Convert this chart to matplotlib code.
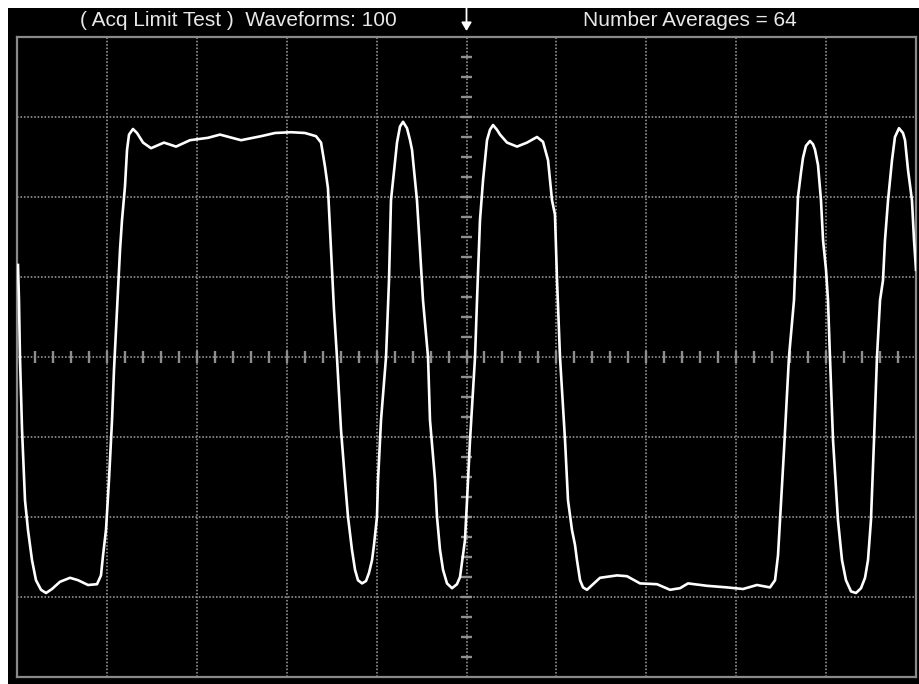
import matplotlib
matplotlib.use("Agg")
import matplotlib.pyplot as plt
from matplotlib.patches import Rectangle

# Screen annotations
left_label = "( Acq Limit Test )  Waveforms: 100"
right_label = "Number Averages = 64"

# Graticule: 10 horizontal x 8 vertical divisions
n_xdiv = 10
n_ydiv = 8
x_minor_per_div = 5
y_minor_per_div = 4
trigger_pos = 5.0

# Averaged acquisition trace (time in divisions, amplitude in divisions)
time_div = [
    0.011, 0.022, 0.033, 0.056, 0.089, 0.122, 0.167, 0.211, 0.267, 0.323,
    0.389, 0.478, 0.590, 0.679, 0.790, 0.890, 0.934, 0.957, 0.990, 1.023,
    1.057, 1.079, 1.101, 1.123, 1.146, 1.168, 1.201, 1.224, 1.246, 1.290,
    1.335, 1.402, 1.491, 1.635, 1.769, 1.924, 2.125, 2.258, 2.492, 2.714,
    2.870, 3.048, 3.204, 3.326, 3.382, 3.426, 3.459, 3.493, 3.526, 3.559,
    3.604, 3.648, 3.682, 3.726, 3.760, 3.793, 3.838, 3.882, 3.915, 3.949,
    3.971, 4.004, 4.016, 4.049, 4.105, 4.138, 4.160, 4.183, 4.227, 4.260,
    4.294, 4.338, 4.372, 4.394, 4.427, 4.449, 4.483, 4.516, 4.572, 4.594,
    4.650, 4.672, 4.705, 4.739, 4.783, 4.839, 4.894, 4.928, 4.961, 4.983,
    5.006, 5.039, 5.095, 5.117, 5.150, 5.184, 5.228, 5.261, 5.295, 5.339,
    5.373, 5.451, 5.562, 5.673, 5.784, 5.851, 5.907, 5.951, 5.984, 6.007,
    6.040, 6.096, 6.129, 6.173, 6.207, 6.229, 6.263, 6.296, 6.340, 6.407,
    6.485, 6.674, 6.785, 6.930, 7.119, 7.264, 7.375, 7.464, 7.675, 7.898,
    8.076, 8.231, 8.376, 8.432, 8.465, 8.487, 8.532, 8.587, 8.643, 8.665,
    8.687, 8.721, 8.743, 8.776, 8.821, 8.854, 8.877, 8.910, 8.943, 8.966,
    8.999, 9.021, 9.043, 9.077, 9.132, 9.177, 9.221, 9.277, 9.333, 9.388,
    9.433, 9.466, 9.499, 9.533, 9.566, 9.600, 9.633, 9.655, 9.689, 9.733,
    9.766, 9.811, 9.855, 9.878, 9.911, 9.955, 9.978, 10.000,
]
volts_div = [
    1.15, 0.71, 0.00, -0.91, -1.79, -2.16, -2.54, -2.79, -2.91, -2.95,
    -2.90, -2.81, -2.76, -2.79, -2.85, -2.84, -2.73, -2.48, -2.16, -1.54,
    -0.79, -0.16, 0.34, 0.84, 1.34, 1.71, 2.13, 2.59, 2.78, 2.85,
    2.80, 2.68, 2.61, 2.68, 2.63, 2.71, 2.74, 2.78, 2.71, 2.76,
    2.80, 2.81, 2.80, 2.76, 2.68, 2.38, 2.11, 1.34, 0.59, 0.00,
    -0.91, -1.54, -2.00, -2.41, -2.66, -2.79, -2.83, -2.80, -2.70, -2.54,
    -2.35, -2.00, -1.54, -0.79, 0.00, 0.96, 1.96, 2.21, 2.68, 2.88,
    2.94, 2.86, 2.71, 2.59, 2.21, 1.96, 1.34, 0.71, 0.00, -0.79,
    -1.54, -2.00, -2.41, -2.66, -2.83, -2.89, -2.84, -2.75, -2.48, -2.29,
    -1.79, -1.04, 0.00, 0.71, 1.71, 2.21, 2.71, 2.84, 2.90, 2.84,
    2.78, 2.68, 2.63, 2.68, 2.75, 2.69, 2.46, 1.96, 1.78, 0.96,
    0.00, -1.04, -1.79, -2.16, -2.35, -2.54, -2.79, -2.88, -2.91, -2.84,
    -2.76, -2.73, -2.74, -2.83, -2.84, -2.91, -2.89, -2.83, -2.86, -2.88,
    -2.90, -2.85, -2.88, -2.79, -2.48, -2.04, -1.16, 0.00, 0.71, 1.34,
    2.00, 2.31, 2.49, 2.64, 2.70, 2.66, 2.59, 2.40, 1.96, 1.46,
    1.09, 0.71, 0.00, -1.04, -2.04, -2.54, -2.79, -2.93, -2.95, -2.89,
    -2.76, -2.54, -2.04, -1.04, 0.00, 0.71, 0.96, 1.46, 1.96, 2.46,
    2.75, 2.86, 2.80, 2.71, 2.34, 1.96, 1.46, 1.09,
]

W, H = 919, 684
fig = plt.figure(figsize=(W / 100, H / 100), dpi=100, facecolor="white")

# Black instrument screen behind everything
fig.patches.append(Rectangle((8 / W, 0), 1 - 8 / W, (H - 8) / H,
                             transform=fig.transFigure, facecolor="black",
                             edgecolor="none", zorder=-10))

ax = fig.add_axes([17 / W, 7 / H, 899 / W, 640 / H])
ax.set_zorder(5)
ax.set_facecolor("black")
ax.set_xlim(0, n_xdiv)
ax.set_ylim(-n_ydiv / 2, n_ydiv / 2)
ax.set_xticks([])
ax.set_yticks([])
for sp in ax.spines.values():
    sp.set_color("#8a8a8a")
    sp.set_linewidth(1.6)

grid_color = "#888888"
dots = (0, (0.9, 1.0))
for k in range(1, n_xdiv):
    ax.axvline(k, color=grid_color, lw=1.3, linestyle=dots, zorder=1)
for k in range(1, n_ydiv):
    ax.axhline(k - n_ydiv / 2, color=grid_color, lw=1.3, linestyle=dots, zorder=1)

# Minor ticks along the centre axes
xc, yc = n_xdiv / 2, 0.0
xt = [i / x_minor_per_div for i in range(1, n_xdiv * x_minor_per_div)]
ax.vlines(xt, yc - 0.07, yc + 0.07, color="#8e8e8e", lw=1.7, zorder=2)
yt = [i / y_minor_per_div - n_ydiv / 2 for i in range(1, n_ydiv * y_minor_per_div)]
ax.hlines(yt, xc - 0.058, xc + 0.058, color="#8e8e8e", lw=1.7, zorder=2)

# Waveform
ax.plot(time_div, volts_div, color="white", lw=1.9, zorder=3,
        solid_joinstyle="round", clip_on=True)

# Trigger position marker
ax.annotate("", xy=(trigger_pos, 4.04), xytext=(trigger_pos, 4.40),
            xycoords="data", annotation_clip=False,
            arrowprops=dict(arrowstyle="-|>,head_length=0.5,head_width=0.3",
                            color="white", lw=1.3))

fam = ["Liberation Sans Narrow", "Liberation Sans", "DejaVu Sans"]
fig.text(238 / W, 1 - 21 / H, left_label, color="#e8e8e8", fontsize=15,
         family=fam, ha="center", va="center")
fig.text(690 / W, 1 - 21 / H, right_label, color="#e8e8e8", fontsize=15,
         family=fam, ha="center", va="center")

fig.savefig("out.png", dpi=100, facecolor="white")
